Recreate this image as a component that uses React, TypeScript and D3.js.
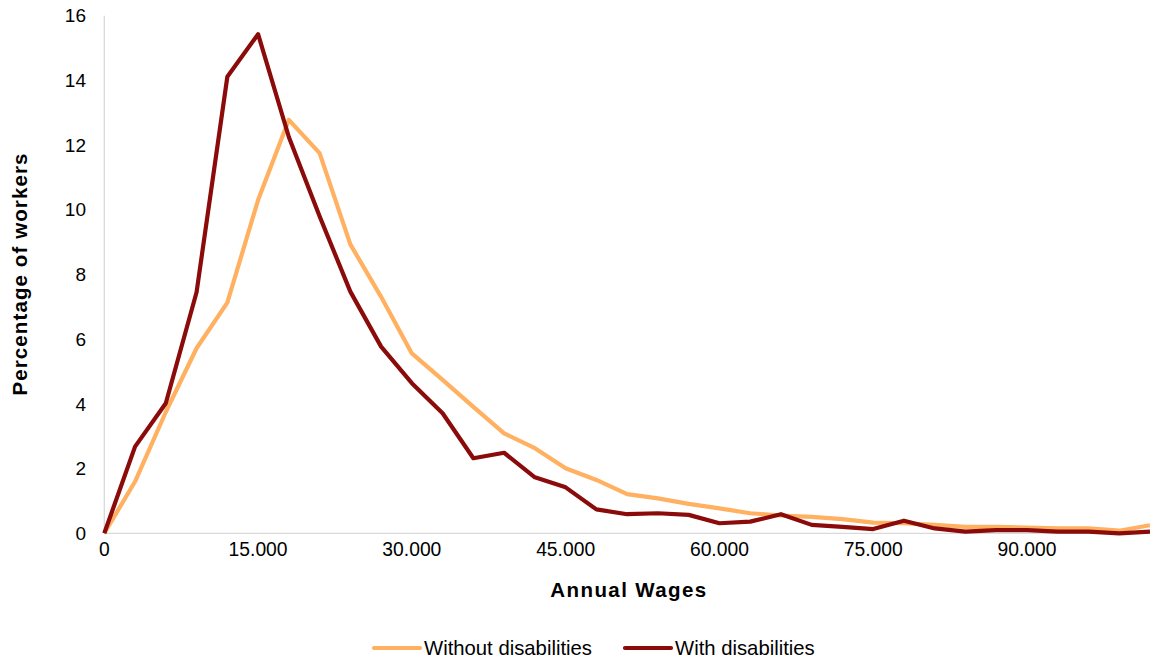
import React from "react";
import * as d3 from "d3";

const wages: number[] = [
  0, 3000, 6000, 9000, 12000, 15000, 18000, 21000, 24000, 27000, 30000, 33000,
  36000, 39000, 42000, 45000, 48000, 51000, 54000, 57000, 60000, 63000, 66000,
  69000, 72000, 75000, 78000, 81000, 84000, 87000, 90000, 93000, 96000, 99000, 102000,
];

const withoutDisabilities: number[] = [
  0, 1.6, 3.75, 5.72, 7.13, 10.3, 12.78, 11.75, 8.93, 7.31, 5.56, 4.74,
  3.91, 3.09, 2.63, 2.01, 1.65, 1.21, 1.08, 0.91, 0.77, 0.62, 0.55,
  0.51, 0.44, 0.33, 0.31, 0.26, 0.2, 0.2, 0.18, 0.15, 0.15, 0.08, 0.25,
];

const withDisabilities: number[] = [
  0, 2.68, 4.02, 7.45, 14.11, 15.43, 12.25, 9.8, 7.47, 5.77, 4.64, 3.71,
  2.32, 2.49, 1.73, 1.42, 0.74, 0.59, 0.62, 0.57, 0.31, 0.36, 0.59,
  0.26, 0.2, 0.13, 0.39, 0.15, 0.05, 0.1, 0.1, 0.05, 0.05, 0.0, 0.05,
];

const xTicks: number[] = [0, 15000, 30000, 45000, 60000, 75000, 90000];
const yTicks: number[] = [0, 2, 4, 6, 8, 10, 12, 14, 16];

const seriesNames: string[] = ["Without disabilities", "With disabilities"];
const seriesColors: string[] = ["#FFB060", "#8B0A0A"];

const W = 1150;
const H = 661;
const FONT = "Liberation Sans, Arial, sans-serif";

export default function App() {
  const x = d3.scaleLinear().domain([0, 102000]).range([104.3, 1150]);
  const y = d3.scaleLinear().domain([0, 16]).range([533.3, 15.7]);

  const line = d3
    .line<number>()
    .x((_, i) => x(wages[i]))
    .y((d) => y(d));

  const fmt = (v: number) =>
    v === 0 ? "0" : d3.format(",")(v).replace(/,/g, ".");

  const series = [withoutDisabilities, withDisabilities];

  return (
    <svg
      width={W}
      height={H}
      style={{ position: "absolute", left: 0, top: 0, background: "#fff" }}
      fontFamily={FONT}
    >
      <line x1={x(0)} x2={x(0)} y1={y(16)} y2={y(0)} stroke="#D9D9D9" strokeWidth={1.3} />
      <line x1={x(0)} x2={1150} y1={y(0)} y2={y(0)} stroke="#D9D9D9" strokeWidth={1.3} />

      {yTicks.map((t) => (
        <text
          key={"y" + t}
          x={86}
          y={y(t)}
          dy="0.35em"
          textAnchor="end"
          fontSize={19}
          fill="#000"
        >
          {t}
        </text>
      ))}
      {xTicks.map((t) => (
        <text
          key={"x" + t}
          x={x(t)}
          y={556}
          textAnchor="middle"
          fontSize={19.3}
          fill="#000"
        >
          {fmt(t)}
        </text>
      ))}

      <text
        x={629}
        y={597}
        textAnchor="middle"
        fontSize={20.5}
        fontWeight="bold"
        letterSpacing={1.4}
        fill="#000"
      >
        Annual Wages
      </text>
      <text
        transform={`translate(27,${274}) rotate(-90)`}
        textAnchor="middle"
        fontSize={20.5}
        fontWeight="bold"
        letterSpacing={1.1}
        fill="#000"
      >
        Percentage of workers
      </text>

      {series.map((s, i) => (
        <path
          key={"s" + i}
          d={line(s) || ""}
          fill="none"
          stroke={seriesColors[i]}
          strokeWidth={4.2}
          strokeLinejoin="round"
        />
      ))}

      {seriesNames.map((n, i) => {
        const lx = i === 0 ? 374 : 625;
        return (
          <g key={"l" + i}>
            <line
              x1={lx}
              x2={lx + 46}
              y1={648}
              y2={648}
              stroke={seriesColors[i]}
              strokeWidth={4.2}
              strokeLinecap="round"
            />
            <text x={lx + 50} y={655} fontSize={20.3} fill="#000">
              {n}
            </text>
          </g>
        );
      })}
    </svg>
  );
}
